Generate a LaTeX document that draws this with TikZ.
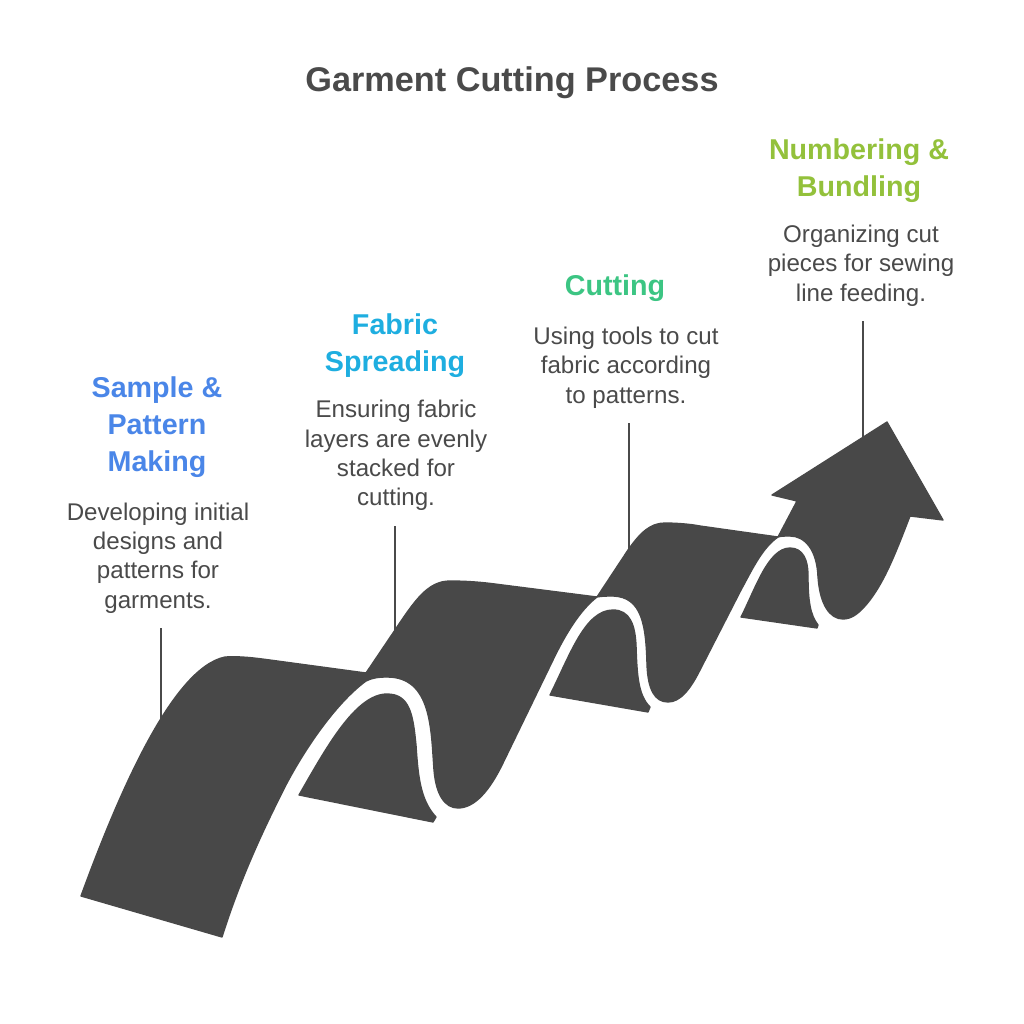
\documentclass[tikz,border=0pt]{standalone}
\usepackage{fontspec}
\setmainfont{Liberation Sans}
\definecolor{ink}{HTML}{4A4A4A}
\definecolor{shape}{HTML}{484848}
\definecolor{cblue}{HTML}{4A86E8}
\definecolor{ccyan}{HTML}{1EAEE0}
\definecolor{cgreen}{HTML}{3CC583}
\definecolor{clime}{HTML}{93C13B}
\tikzset{
  head/.style={align=center,font=\bfseries\fontsize{21.5}{27.7}\selectfont,inner sep=0pt},
  desc/.style={align=center,font=\fontsize{18.1}{22.1}\selectfont,text=ink,inner sep=0pt},
  ribbon/.style={fill=shape,draw=shape,line width=1pt,line join=round},
  leader/.style={draw=ink,line width=1.5pt}
}
\begin{document}
\begin{tikzpicture}[x=.75pt,y=-.75pt]
\useasboundingbox (0,0) rectangle (1024,1024);
\fill[white] (0,0) rectangle (1024,1024);
% leaders
\coordinate (a1) at (161,628); \coordinate (b1) at (161,722);
\coordinate (a2) at (395,526); \coordinate (b2) at (395,634);
\coordinate (a3) at (629,423); \coordinate (b3) at (629,555);
\coordinate (a4) at (863,321); \coordinate (b4) at (863,444);
\draw[leader] (a1) -- (b1);
\draw[leader] (a2) -- (b2);
\draw[leader] (a3) -- (b3);
\draw[leader] (a4) -- (b4);
% main ribbon
\path[ribbon] (81,896)
  .. controls (118,795) and (172,668) .. (225,657)
  .. controls (240,656) and (255,658) .. (270,660)
  -- (366,673) -- (395,630)
  .. controls (415,600) and (428,581) .. (450,581)
  .. controls (465,581) and (480,582) .. (495,584)
  -- (597,597) -- (628,550)
  .. controls (640,533) and (650,523) .. (665,523)
  .. controls (675,523) and (690,524) .. (700,526)
  -- (778,537) -- (797,501) -- (772,495) -- (887,422) -- (943,520) -- (910,516)
  .. controls (895,555) and (885,580) .. (870,600)
  .. controls (860,613) and (852,619) .. (843,619)
  .. controls (830,619) and (820,605) .. (818,577)
  .. controls (817,550) and (805,536) .. (790,536)
  .. controls (785,536) and (781,536) .. (778,537)
  .. controls (762,548) and (752,570) .. (741,590)
  -- (700,670)
  .. controls (690,690) and (680,702) .. (668,702)
  .. controls (655,702) and (648,690) .. (647,665)
  .. controls (646,625) and (642,597) .. (613,596)
  .. controls (608,596) and (602,596) .. (597,597)
  .. controls (580,610) and (565,635) .. (553,660)
  -- (503,763)
  .. controls (490,790) and (475,808) .. (458,808)
  .. controls (445,808) and (436,795) .. (434,770)
  .. controls (431,730) and (432,677) .. (387,677)
  .. controls (378,677) and (372,678) .. (366,681)
  .. controls (340,700) and (310,740) .. (287,783)
  .. controls (262,832) and (240,880) .. (222,937)
  -- cycle;
% piece under first hump
\path[ribbon] (299,795)
  .. controls (325,750) and (355,694) .. (387,694)
  .. controls (410,694) and (413,715) .. (416,745)
  .. controls (418,775) and (420,800) .. (436,817)
  -- (433,822) -- cycle;
% piece under second hump
\path[ribbon] (550,695)
  .. controls (570,655) and (585,610) .. (613,610)
  .. controls (630,610) and (635,625) .. (636,645)
  .. controls (637,675) and (638,695) .. (650,707)
  -- (648,712) -- cycle;
% piece under third hump
\path[ribbon] (741,617)
  .. controls (755,590) and (768,548) .. (790,548)
  .. controls (803,548) and (808,560) .. (808,575)
  .. controls (808,600) and (810,615) .. (818,625)
  -- (817,628) -- cycle;
% texts
\node[inner sep=0pt,font=\bfseries\fontsize{25.7}{30}\selectfont,text=ink] (title) at (512,83) {Garment Cutting Process};
\node[head,text=cblue] (h1) at (157,427) {Sample \&\\Pattern\\Making};
\node[desc] (d1) at (158,558) {Developing initial\\designs and\\patterns for\\garments.};
\node[head,text=ccyan] (h2) at (395,346) {Fabric\\Spreading};
\node[desc] (d2) at (396,455.5) {Ensuring fabric\\layers are evenly\\stacked for\\cutting.};
\node[head,text=cgreen] (h3) at (615,288) {Cutting};
\node[desc] (d3) at (626,367.5) {Using tools to cut\\fabric according\\to patterns.};
\node[head,text=clime] (h4) at (859,171) {Numbering \&\\Bundling};
\node[desc] (d4) at (861,265.5) {Organizing cut\\pieces for sewing\\line feeding.};
\end{tikzpicture}
\end{document}
